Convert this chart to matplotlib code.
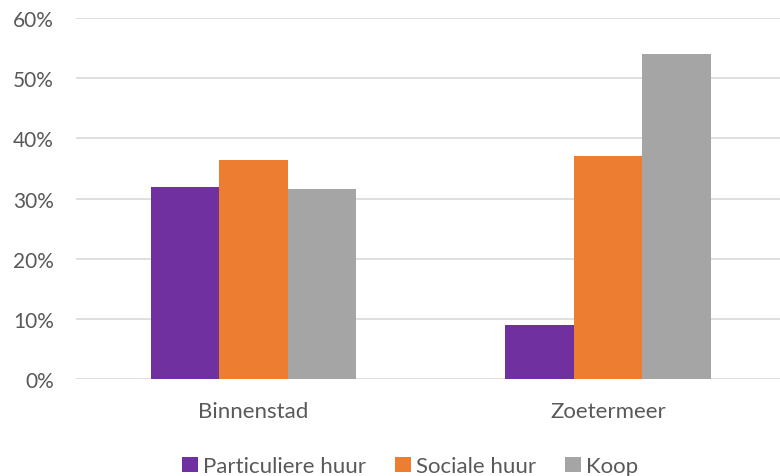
import matplotlib.pyplot as plt
import numpy as np
from matplotlib.ticker import PercentFormatter

plt.rcParams['font.family'] = ['Lato', 'DejaVu Sans']

# data
gebieden = ['Binnenstad', 'Zoetermeer']
reeksen = ['Particuliere huur', 'Sociale huur', 'Koop']
particulier = [0.319, 0.090]
sociaal = [0.364, 0.370]
koop = [0.316, 0.540]
kleuren = ['#7030A0', '#ED7D31', '#A5A5A5']

fig = plt.figure(figsize=(7.8, 4.77), dpi=100)
ax = fig.add_axes([76 / 780, 97 / 477, 704 / 780, 361 / 477])

x = np.arange(len(gebieden))
w = 0.193
for i, (vals, kleur, naam) in enumerate(zip([particulier, sociaal, koop], kleuren, reeksen)):
    ax.bar(x + (i - 1) * w, vals, width=w, color=kleur, label=naam, zorder=3)

ax.set_xlim(-0.5, 1.485)
ax.set_ylim(0, 0.6)
ax.set_yticks(np.arange(0, 0.61, 0.1))
ax.yaxis.set_major_formatter(PercentFormatter(1.0, decimals=0))
ax.set_xticks(x)
ax.set_xticklabels(gebieden)
ax.grid(axis='y', color='#D9D9D9', linewidth=1.2, zorder=0)
for s in ax.spines.values():
    s.set_visible(False)
ax.tick_params(axis='y', length=0, labelsize=15, colors='#595959', pad=16)
ax.tick_params(axis='x', length=0, labelsize=16, colors='#595959', pad=16)

ax.legend(loc='lower center', bbox_to_anchor=(0.475, -0.325), ncol=3, frameon=False,
          fontsize=16, labelcolor='#595959', handlelength=0.7, handleheight=0.7,
          handletextpad=0.25, columnspacing=1.3)

plt.savefig('out.png', dpi=100)
